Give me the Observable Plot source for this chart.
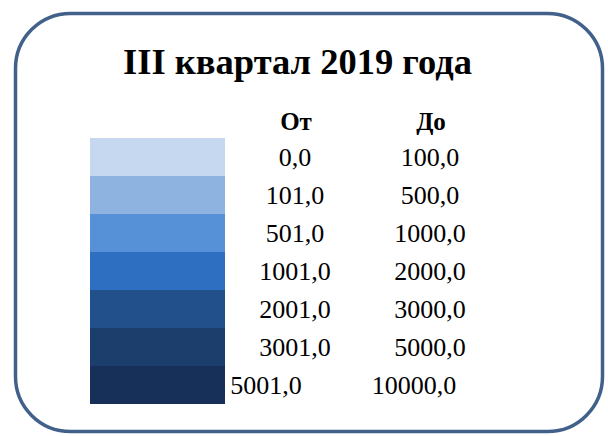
<!DOCTYPE html>
<html>
<head>
<meta charset="utf-8">
<script src="https://cdn.jsdelivr.net/npm/d3@7"></script>
<script src="https://cdn.jsdelivr.net/npm/@observablehq/plot@0.6"></script>
<style>
  html, body { margin: 0; padding: 0; background: #fff; }
  #chart svg { display: block; }
</style>
</head>
<body>
<div id="chart"></div>
<script>
const title = "III квартал 2019 года";
const headers = ["От", "До"];
const fromValues = ["0,0", "101,0", "501,0", "1001,0", "2001,0", "3001,0", "5001,0"];
const toValues = ["100,0", "500,0", "1000,0", "2000,0", "3000,0", "5000,0", "10000,0"];
const colors = ["#c5d8f0", "#8eb3e1", "#5690d6", "#2f6fc2", "#21508b", "#1c3e6d", "#17305a"];

const rows = fromValues.map((f, i) => ({row: i, from: f, to: toValues[i], color: colors[i]}));
const last = rows.length - 1;
const mainRows = rows.filter(d => d.row !== last);
const lastRows = rows.filter(d => d.row === last);
const headerRows = [{col: "from", label: headers[0]}, {col: "to", label: headers[1]}];

const serif = "'Liberation Serif', 'Times New Roman', serif";

const plot = Plot.plot({
  width: 608,
  height: 436,
  margin: 0,
  style: {background: "#fff", fontFamily: serif},
  x: {type: "band", domain: ["swatch", "from", "to"], range: [90, 495], padding: 0, axis: null},
  y: {type: "band", domain: ["header", ...rows.map(d => d.row)], range: [100, 404], padding: 0, axis: null},
  marks: [
    Plot.frame({stroke: "#41618b", strokeWidth: 3.5, rx: 55, ry: 55, insetLeft: 15, insetRight: 6, insetTop: 13, insetBottom: 5}),
    Plot.text([title], {frameAnchor: "top", dy: 62, dx: -7, text: d => d, fontSize: 36.5, fontWeight: "bold", fill: "#000", lineAnchor: "middle"}),
    Plot.cell(rows, {x: () => "swatch", y: "row", fill: "color"}),
    Plot.text(headerRows, {x: "col", y: () => "header", text: "label", fontSize: 25, fontWeight: "bold", fill: "#000", dx: 3, dy: 2}),
    Plot.text(mainRows, {x: () => "from", y: "row", text: "from", fontSize: 26, fill: "#000", dx: 2}),
    Plot.text(mainRows, {x: () => "to", y: "row", text: "to", fontSize: 26, fill: "#000", dx: 2}),
    Plot.text(lastRows, {x: () => "from", y: "row", text: "from", fontSize: 26, fill: "#000", dx: -27}),
    Plot.text(lastRows, {x: () => "to", y: "row", text: "to", fontSize: 26, fill: "#000", dx: -14})
  ]
});
document.getElementById("chart").appendChild(plot);
</script>
</body>
</html>
